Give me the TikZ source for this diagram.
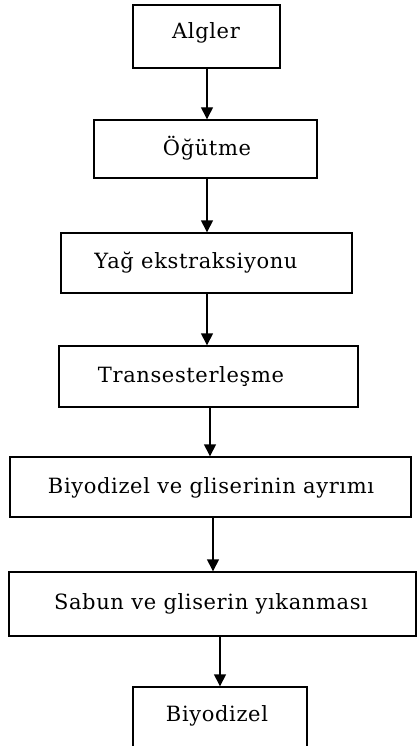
\documentclass[tikz,border=0pt]{standalone}
\usepackage{fontspec}
\setmainfont[LetterSpace=3]{DejaVu Serif}
\usetikzlibrary{arrows.meta}
\begin{document}
\begin{tikzpicture}[x=1pt,y=-1pt,
  stepbox/.style={draw=black,line width=1.4pt,inner sep=0pt,rectangle},
  lbl/.style={inner sep=0pt,font=\fontsize{21}{24}\selectfont},
  arr/.style={line width=1.4pt,-{Triangle[width=12pt,length=12pt]}}]
\useasboundingbox (0,0) rectangle (417,746);
% boxes (centre, width, height)
\node[stepbox,minimum width=147pt,minimum height=63pt] (b1) at (206.5,36.5) {};
\node[stepbox,minimum width=223pt,minimum height=58pt] (b2) at (205.5,149) {};
\node[stepbox,minimum width=291pt,minimum height=60pt] (b3) at (206.5,263) {};
\node[stepbox,minimum width=299pt,minimum height=61pt] (b4) at (208.5,376.5) {};
\node[stepbox,minimum width=401pt,minimum height=60pt] (b5) at (210.5,487) {};
\node[stepbox,minimum width=407pt,minimum height=64pt] (b6) at (212.5,604) {};
\node[stepbox,minimum width=174pt,minimum height=70pt] (b7) at (220,722) {};
% labels
\node[lbl] (t1) at (206,33) {Algler};
\node[lbl] (t2) at (207,148) {Öğütme};
\node[lbl] (t3) at (196,263) {Yağ ekstraksiyonu};
\node[lbl] (t4) at (191,377) {Transesterleşme};
\node[lbl] (t5) at (211,488) {Biyodizel ve gliserinin ayrımı};
\node[lbl] (t6) at (211,604) {Sabun ve gliserin yıkanması};
\node[lbl] (t7) at (217,716) {Biyodizel};
% arrow columns
\coordinate (c1) at (207,0);
\coordinate (c2) at (207,0);
\coordinate (c3) at (207,0);
\coordinate (c4) at (210,0);
\coordinate (c5) at (213,0);
\coordinate (c6) at (220,0);
\draw[arr] (b1.south -| c1) -- (b2.north -| c1);
\draw[arr] (b2.south -| c2) -- (b3.north -| c2);
\draw[arr] (b3.south -| c3) -- (b4.north -| c3);
\draw[arr] (b4.south -| c4) -- (b5.north -| c4);
\draw[arr] (b5.south -| c5) -- (b6.north -| c5);
\draw[arr] (b6.south -| c6) -- (b7.north -| c6);
\end{tikzpicture}
\end{document}
